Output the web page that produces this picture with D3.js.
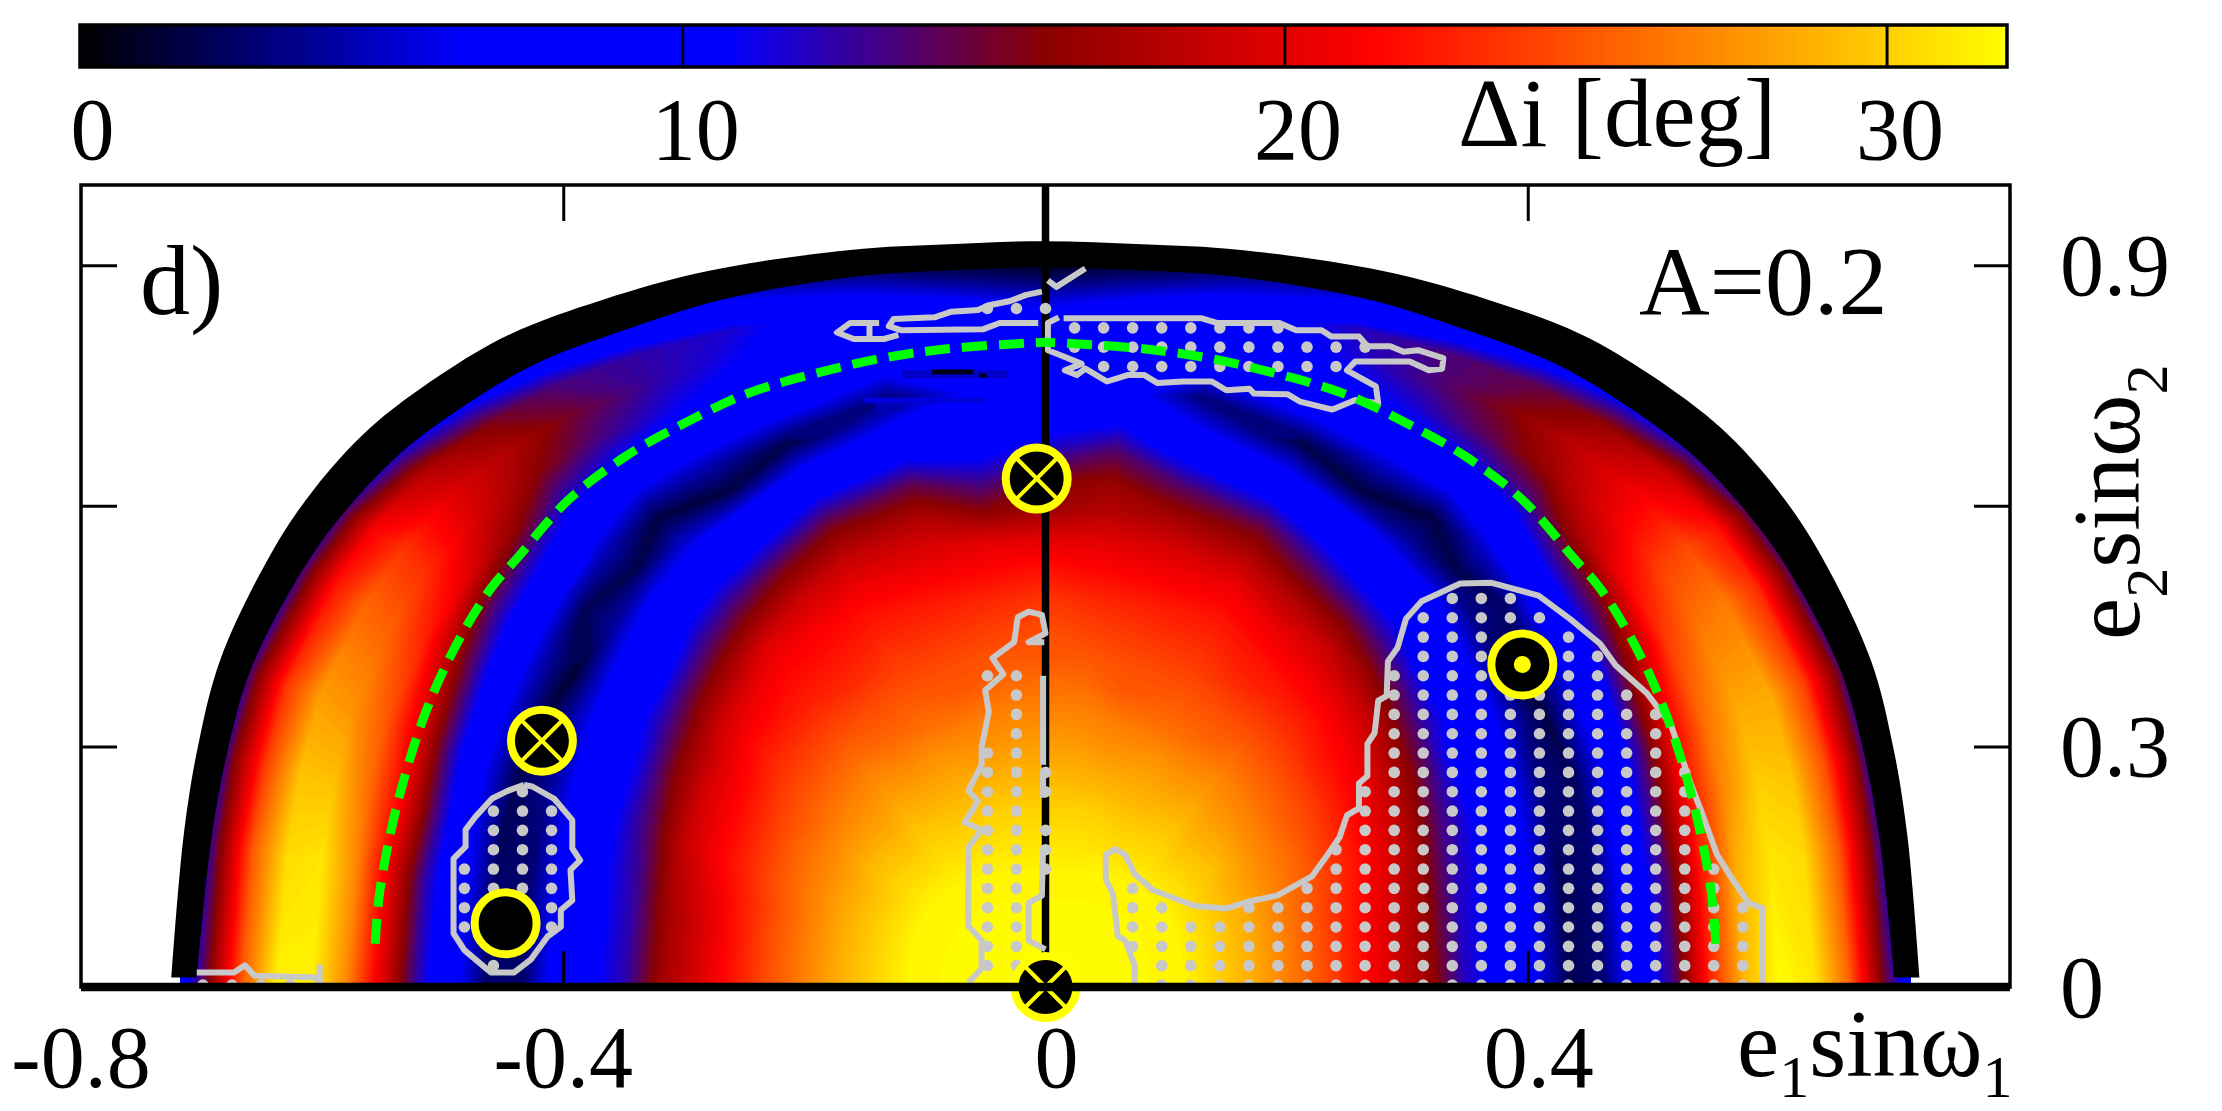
<!DOCTYPE html>
<html lang="en">
<head>
<meta charset="UTF-8">
<title>d) A=0.2</title>
<script src="https://cdnjs.cloudflare.com/ajax/libs/d3/7.8.5/d3.min.js"></script>
<style>
    html, body { margin: 0; padding: 0; background: #fff; }
    svg { display: block; }
    text { font-family: "Liberation Serif", serif; fill: #000; }
</style>
</head>
<body>
<script>
// outer edge of the allowed region, one point per spoke, left to right
var spokeEdgeX = [-.725, -.715, -.703, -.684, -.641, -.607, -.561, -.502, -.444, -.367, -.279, -.162, -.08, 0, .08, .162, .279, .367, .444, .502, .561, .607, .641, .684, .703, .715, .725];
var spokeEdgeY = [0, .187, .3, .41, .544, .62, .696, .763, .814, .857, .893, .919, .926, .93, .926, .919, .893, .857, .814, .763, .696, .62, .544, .41, .3, .187, 0];
// inner side of the black band, as a fraction of the edge
var bandInner = [.971, .968, .966, .964, .96, .957, .955, .954, .954, .955, .96, .964, .965, .965, .965, .964, .96, .955, .954, .954, .955, .957, .96, .964, .966, .968, .971];

// fractions of the way from (0,0) to the edge
var radialStops = [0, .08, .16, .24, .32, .36, .4, .44, .48, .52, .56, .6, .64, .68, .72, .76, .8, .84, .88, .92, .96, .99];

var fieldValues = [
    [32, 32, 31.5, 28.5, 24.5, 22, 19.5, 17, 12.5, 10.2, 7.5, 2.5, 2.5, 7.5, 12.5, 20, 27, 31.5, 31.5, 25, 15, 9],
    [32, 32, 31.5, 28.5, 24.5, 22, 19.5, 17, 12.5, 10.2, 7.5, 2.8, 2.5, 7.5, 12.5, 20, 27, 31, 30.5, 25, 15, 8],
    [32, 32, 31.5, 28.5, 24.5, 22.3, 20, 17.5, 13, 10.4, 7.8, 3, 2.2, 7, 13.5, 21, 26, 29.5, 29.5, 24, 15, 7],
    [32, 32, 31.5, 28.5, 25, 23, 21, 18.5, 14, 10.7, 8, 3.8, 2, 6.5, 12.5, 20, 25, 27.5, 28, 23.5, 14.5, 7],
    [32, 32, 31.5, 28.5, 25.5, 23.5, 21.5, 19.5, 16, 11.5, 9, 5.5, 1.5, 5.5, 10.5, 16.5, 22.5, 25, 25.5, 22, 13.5, 6.5],
    [32, 32, 31.5, 29, 25.5, 24, 22, 20, 17, 13, 9.5, 6.5, 1.3, 4.5, 9, 14, 20.5, 23, 23.5, 21, 13, 6],
    [32, 32, 31.5, 29, 26, 24.5, 23, 21.3, 19, 15, 10.5, 8, 4, 2, 7.5, 12, 17, 19.5, 20, 18, 11, 5],
    [32, 32, 31.5, 29, 26.5, 25, 23.5, 22, 20.5, 17.5, 13.5, 9.8, 7, 1.8, 4.5, 8.5, 12.5, 16, 17.5, 15.5, 9.5, 4.5],
    [32, 32, 31.5, 29.5, 27, 25.5, 24, 22.5, 21.5, 20, 16, 12, 8.5, 5, 1.5, 6, 10.5, 13.5, 15, 13.5, 8, 3.5],
    [32, 32, 31.5, 29.5, 27, 25.5, 24.5, 23, 22, 21, 19, 15.5, 11, 8, 1.5, 4.5, 8.5, 11, 12.5, 12.5, 7, 2.5],
    [32, 32, 31.5, 29.5, 27.5, 26, 25, 24, 23, 22, 20.5, 18.5, 15.5, 11, 7, 1.8, 7, 9, 10.5, 11.5, 6, 2],
    [32, 32, 31.5, 30, 27.5, 26.5, 25, 24.5, 23.5, 22.5, 21, 19.5, 17.5, 14.5, 10.2, 7, 3, 7.5, 9.5, 8.5, 4, 1],
    [32, 32, 31.5, 30, 28, 27, 26, 25, 24, 23, 21.5, 20, 16, 13, 10, 8, 6.5, 8, 8.5, 7, 2.5, .5],
    [32, 32, 31.5, 30, 28, 27, 26, 25, 24.5, 23.5, 22, 20, 17, 15.5, 12, 9.5, 8, 8, 8, 5.5, 1.5, .3],
    [32, 32, 31.5, 30, 28, 27, 26, 25, 24, 23, 21.5, 20, 18, 16.5, 14, 10.5, 7.5, 8, 8.5, 7, 2.5, .5],
    [32, 32, 31.5, 30, 27.5, 26.5, 25, 24.5, 23.5, 22.5, 21, 19.5, 17, 14, 10, 6.5, 3, 7.5, 9.5, 8.5, 4, 1],
    [32, 32, 31.5, 29.5, 27.5, 26, 25, 24, 23, 22, 20.5, 18, 15, 10.5, 6.5, 1.8, 7, 9, 11, 12, 6, 2],
    [32, 32, 31.5, 29.5, 27, 25.5, 24.5, 23, 22, 20.5, 18, 14.5, 10.5, 7.5, 1.5, 5, 9, 11.5, 13.5, 13.5, 7.5, 2.5],
    [32, 32, 31.5, 29.5, 27, 25.5, 24, 22.5, 21, 19, 15.5, 11, 8, 4, 1.5, 6.5, 11, 14.5, 16, 14.5, 8.5, 3.5],
    [32, 32, 31.5, 29, 26.5, 25, 23.5, 22, 20, 17, 13, 9.5, 6.5, 1.8, 5, 9, 13.5, 17, 18.5, 16.5, 10, 4.5],
    [32, 32, 31.5, 29, 26, 24.5, 22.5, 21, 18.5, 14.5, 10.2, 7.5, 3.5, 2.5, 8, 13, 18, 20.5, 21, 19, 11.5, 5],
    [32, 32, 31.5, 29, 25.5, 24, 22, 20, 16.5, 12.5, 9.5, 6, 1.3, 5, 9.5, 15, 21.5, 24, 24.5, 22, 13.5, 6],
    [32, 32, 31.5, 28.5, 25.5, 23.5, 21.5, 19, 15.5, 11, 8.5, 5, 1.5, 6, 11, 17.5, 23.5, 26, 26.5, 23, 14, 6.5],
    [32, 32, 31.5, 28.5, 25, 23, 20.8, 18, 13.5, 10.5, 7.5, 3.2, 2.2, 7, 13, 21, 26, 28.5, 28.5, 24, 15, 7],
    [32, 32, 31.5, 28.5, 24.5, 22.3, 20, 17.2, 12.5, 10.2, 7, 2.5, 2.8, 8, 14, 22, 27, 30, 29.5, 24.5, 15, 7],
    [32, 32, 31.5, 28.5, 24.5, 22, 19.5, 16.8, 12, 10, 6.5, 2, 3, 8.5, 13.5, 22, 28.5, 31, 30.5, 25, 15, 8],
    [32, 32, 31.5, 28.5, 24.5, 22, 19.5, 16.8, 12, 10, 6.5, 2, 3, 8.5, 13.5, 22.5, 29, 32, 31, 25.5, 15, 9]
];

// small dark scraps above the dome: x0, x1, y0, y1, value
var scrapX0 = [-.151, -.142, -.119, -.094, -.055];
var scrapX1 = [-.049, -.119, -.031, -.06, -.049];
var scrapY0 = [.728, .717, .759, .764, .76];
var scrapY1 = [.735, .728, .769, .77, .765];
var scrapValue = [5.5, 4.5, 5, .5, .5];

// the palette
var paletteStops = [0, 6.4, 10.67, 16, 21.33, 32];
var paletteColors = ["#000000", "#0000ff", "#0000ff", "#8b0000", "#ff0000", "#ffff00"];

// grey outlines, [e1 sin w1, e2 sin w2]
var outlineBig = [[.074,.005],[.074,.027],[.066,.058],[.06,.063],[.056,.116],[.05,.134],[.05,.165],[.058,.172],[.066,.165],[.074,.141],[.089,.121],[.124,.101],[.15,.098],[.17,.107],[.192,.114],[.221,.138],[.234,.165],[.244,.187],[.25,.214],[.26,.223],[.26,.254],[.267,.263],[.267,.303],[.273,.317],[.276,.357],[.283,.363],[.284,.406],[.292,.423],[.299,.459],[.312,.481],[.344,.503],[.37,.504],[.409,.488],[.435,.459],[.46,.428],[.473,.401],[.499,.366],[.519,.326],[.535,.254],[.544,.219],[.557,.165],[.57,.134],[.583,.105],[.595,.098],[.595,.005]];
var outlineStrip = [[-.064,.005],[-.053,.023],[-.053,.058],[-.064,.076],[-.064,.174],[-.053,.196],[-.067,.205],[-.056,.232],[-.064,.245],[-.053,.277],[-.053,.299],[-.047,.343],[-.05,.37],[-.035,.39],[-.044,.41],[-.026,.43],[-.023,.461],[-.014,.468],[-.003,.464],[0,.441],[-.014,.43],[-.001,.43]];
var outlineStripB = [[-.002,.388],[-.002,.277]];
var outlineStripC = [[-.002,.268],[-.002,.236]];
var outlineStripD = [[0,.047],[-.014,.058],[-.014,.105],[-.003,.114],[-.002,.174]];
var outlineBlob = [[-.4326,.252],[-.4257,.25],[-.4077,.235],[-.3925,.208],[-.3925,.173],[-.386,.158],[-.394,.146],[-.3925,.108],[-.402,.096],[-.402,.075],[-.413,.063],[-.427,.034],[-.441,.018],[-.46,.018],[-.482,.046],[-.491,.067],[-.491,.16],[-.481,.175],[-.481,.196],[-.473,.212],[-.459,.235],[-.447,.244],[-.4326,.252]];
var outlineFoot = [[-.704,.018],[-.673,.018],[-.664,.027],[-.656,.014],[-.602,.012],[-.602,.025],[-.602,.005]];
var outlineTopTick = [[.033,.896],[.009,.873],[.002,.881]];
var outlineTopA = [[-.003,.867],[-.016,.863],[-.03,.855],[-.047,.85],[-.056,.844],[-.078,.842],[-.092,.835],[-.126,.833],[-.13,.824],[-.12,.819],[-.052,.82],[-.038,.828],[-.006,.828]];
var outlineTopB = [[-.138,.828],[-.162,.828],[-.173,.816],[-.159,.808],[-.134,.808],[-.122,.813]];
var outlineTopC = [[-.146,.825],[-.146,.808]];
var outlineTopRight = [[.015,.834],[.129,.834],[.142,.828],[.194,.828],[.208,.819],[.229,.819],[.237,.811],[.26,.811],[.267,.799],[.286,.799],[.297,.792],[.309,.794],[.33,.784],[.329,.771],[.318,.769],[.302,.78],[.257,.78],[.25,.769],[.274,.749],[.276,.728],[.257,.732],[.238,.72],[.211,.73],[.201,.739],[.173,.74],[.169,.746],[.15,.744],[.138,.755],[.114,.755],[.093,.753],[.082,.763],[.068,.763],[.051,.755],[.033,.771],[.026,.763],[.016,.769],[.03,.777],[.012,.788],[.002,.794],[.002,.828],[.011,.835]];
var outlines = [outlineBig, outlineStrip, outlineStripB, outlineStripC, outlineStripD, outlineBlob, outlineFoot, outlineTopTick, outlineTopA, outlineTopB, outlineTopC, outlineTopRight];

// stable dots: [row, first col, last col] on the scan grid
var dotStep = .0241, dotRowZero = .0025;
var dotSpans = [
    [0,-29,-25],
    [1,-19,-19],[3,-20,-20],[3,-17,-17],[4,-20,-20],[4,-17,-17],[5,-20,-17],[6,-20,-17],[7,-19,-17],[8,-19,-17],[9,-19,-17],[10,-18,-18],
    [1,-2,-1],[2,-2,-1],[3,-2,-1],[4,-2,-1],[5,-2,-1],[6,-2,0],[7,-2,0],[8,-2,0],[9,-2,-1],[10,-2,0],[11,-2,0],[12,-2,-1],[13,-1,-1],[14,-1,-1],[15,-1,-1],[16,-2,-1],
    [0,4,24],[1,4,24],[2,3,24],[3,3,24],[4,3,4],[4,7,24],[5,3,3],[5,9,23],[6,10,23],[7,10,22],[8,11,22],[9,11,22],[10,11,22],[11,12,22],[12,12,21],[13,12,21],[14,12,21],[15,12,20],[16,12,19],[17,13,15],[17,18,19],[18,13,15],[18,18,18],[19,13,17],[20,14,16],
    [32,2,10],[33,1,11],[34,1,8],[35,-2,0]
];

// dashed green curve
var greenX = [-.556,-.552,-.537,-.514,-.49,-.461,-.4375,-.396,-.349,-.302,-.249,-.191,-.132,-.073,0,.073,.132,.191,.249,.302,.349,.396,.4375,.461,.49,.514,.537,.552,.556];
var greenY = [.054,.121,.232,.343,.423,.495,.536,.607,.661,.701,.739,.765,.785,.797,.804,.797,.785,.765,.739,.701,.661,.607,.536,.495,.423,.343,.232,.121,.054];

// yellow markers
var markerX = [-.4177, -.4478, -.0073, 0, .3955];
var markerY = [.307, .0794, .634, 0, .402];
var markerKind = ["cross", "plain", "cross", "cross", "dot"];

var xTicks = [-.8, -.4, 0, .4, .8];
var yTicks = [0, .3, .6, .9];
var barTicks = [0, 10, 20, 30];
var yLabelled = [0, .3, .9];

var width = 2222, height = 1111;

var x = d3.scaleLinear().domain([-.8, .8]).range([81, 2010]);
var y = d3.scaleLinear().domain([0, 1]).range([987, 185]);
var barX = d3.scaleLinear().domain([0, 32]).range([80, 2007]);
var color = d3.scaleLinear().domain(paletteStops).range(paletteColors).clamp(true);

var svg = d3.select("body").append("svg").attr("width", width).attr("height", height);

// ---------- colour bar ----------
var bar = svg.append("g");
bar.selectAll("rect")
    .data(d3.range(0, 32, .1))
    .enter().append("rect")
    .attr("x", function (d) { return barX(d); })
    .attr("width", function (d) { return barX(Math.min(d + .2, 32)) - barX(d); })
    .attr("y", 25).attr("height", 42)
    .attr("fill", function (d) { return color(d); });
bar.append("rect")
    .attr("x", barX(0)).attr("y", 25).attr("width", barX(32) - barX(0)).attr("height", 42)
    .attr("fill", "none").attr("stroke", "#000").attr("stroke-width", 3.5);

var barAxis = svg.append("g")
    .attr("transform", "translate(0,67)")
    .call(d3.axisBottom(barX).tickValues(barTicks).tickSize(-42).tickSizeOuter(0).tickFormat(d3.format("d")));
barAxis.select(".domain").remove();
barAxis.selectAll("line").attr("stroke-width", 3);
barAxis.selectAll("text")
    .attr("font-size", 88).attr("font-family", "Liberation Serif").attr("fill", "#000")
    .attr("y", 92).attr("dy", 0).attr("x", function (d) { return d === 0 ? 12 : 13; });

svg.append("text").attr("x", 1458).attr("y", 146).attr("font-size", 97).text("Δi [deg]");

// ---------- the field, as filled contours over spoke/stop indices ----------
var nSpoke = fieldValues.length, nStop = radialStops.length;
var flat = [];
radialStops.forEach(function (s, j) {
    fieldValues.forEach(function (row) { flat.push(row[j]); });
});

var spokeIndex = d3.range(nSpoke);
var edgeX = d3.scaleLinear().domain(spokeIndex).range(spokeEdgeX).clamp(true);
var edgeY = d3.scaleLinear().domain(spokeIndex).range(spokeEdgeY).clamp(true);
var stopAt = d3.scaleLinear().domain(d3.range(nStop)).range(radialStops).clamp(true);

// contour coordinates have each value at index + 0.5
var gridPath = d3.geoPath(d3.geoTransform({
    point: function (a, b) {
        var t = stopAt(b - .5);
        this.stream.point(x(edgeX(a - .5) * t), y(edgeY(a - .5) * t));
    }
}));

var levelStep = .25;
var contours = d3.contours()
    .size([nSpoke, nStop])
    .thresholds(d3.range(0, 32, levelStep))(flat);

svg.append("g").selectAll("path")
    .data(contours)
    .enter().append("path")
    .attr("d", gridPath)
    .attr("fill", function (d) { return color(d.value + levelStep / 2); });

svg.append("g").selectAll("rect")
    .data(scrapValue)
    .enter().append("rect")
    .attr("x", function (d, i) { return x(scrapX0[i]); })
    .attr("width", function (d, i) { return x(scrapX1[i]) - x(scrapX0[i]); })
    .attr("y", function (d, i) { return y(scrapY1[i]); })
    .attr("height", function (d, i) { return y(scrapY0[i]) - y(scrapY1[i]); })
    .attr("fill", function (d) { return color(d); });

// black band round the region
var curved = d3.line()
    .x(function (d) { return x(d[0]); })
    .y(function (d) { return y(Math.max(d[1], .012)); })
    .curve(d3.curveCatmullRom.alpha(.5));
var bandOuter = spokeEdgeX.map(function (d, i) { return [d, spokeEdgeY[i]]; });
var bandBack = spokeEdgeX.map(function (d, i) { return [d * bandInner[i], spokeEdgeY[i] * bandInner[i]]; }).reverse();
svg.append("path")
    .attr("d", curved(bandOuter) + "L" + curved(bandBack).slice(1) + "Z")
    .attr("fill", "#000");

// line at e1 sin w1 = 0
svg.append("line")
    .attr("x1", x(0)).attr("x2", x(0)).attr("y1", y(1)).attr("y2", y(0))
    .attr("stroke", "#000").attr("stroke-width", 7.5);

// ---------- grey outlines and dots ----------
var plain = d3.line()
    .x(function (d) { return x(d[0]); })
    .y(function (d) { return y(d[1]); });
svg.append("g").selectAll("path")
    .data(outlines)
    .enter().append("path")
    .attr("d", plain)
    .attr("fill", "none").attr("stroke", "#c8c8c8").attr("stroke-width", 6)
    .attr("stroke-linejoin", "round");

var dots = [];
dotSpans.forEach(function (s) {
    d3.range(s[1], s[2] + 1).forEach(function (c) { dots.push([c * dotStep, dotRowZero + s[0] * dotStep]); });
});
svg.append("g").selectAll("circle")
    .data(dots)
    .enter().append("circle")
    .attr("cx", function (d) { return x(d[0]); })
    .attr("cy", function (d) { return y(d[1]); })
    .attr("r", 5.8)
    .attr("fill", "#c8c8c8");

// ---------- green curve, two halves dashed from the lower ends ----------
var greenPoints = greenX.map(function (d, i) { return [d, greenY[i]]; });
var greenLine = d3.line()
    .x(function (d) { return x(d[0]); })
    .y(function (d) { return y(d[1]); })
    .curve(d3.curveCatmullRom);
svg.append("g").selectAll("path")
    .data([greenPoints.slice(0, 15), greenPoints.slice(14).reverse()])
    .enter().append("path")
    .attr("d", greenLine)
    .attr("fill", "none").attr("stroke", "#00ff00").attr("stroke-width", 9)
    .attr("stroke-dasharray", "25 12");

// ---------- markers ----------
var mark = svg.append("g").selectAll("g")
    .data(markerX)
    .enter().append("g")
    .attr("transform", function (d, i) { return "translate(" + x(d) + "," + y(markerY[i]) + ")"; });
mark.append("circle").attr("r", 31).attr("fill", "#000").attr("stroke", "#ffff00").attr("stroke-width", 8);
mark.filter(function (d, i) { return markerKind[i] === "dot"; })
    .append("circle").attr("r", 8.5).attr("fill", "#ffff00");
mark.filter(function (d, i) { return markerKind[i] === "cross"; })
    .append("path")
    .attr("d", "M-20,-20L20,20M-20,20L20,-20")
    .attr("stroke", "#ffff00").attr("stroke-width", 4);

// ---------- frame and axes ----------
svg.append("rect")
    .attr("x", x.range()[0]).attr("y", y.range()[1])
    .attr("width", x.range()[1] - x.range()[0]).attr("height", y.range()[0] - y.range()[1])
    .attr("fill", "none").attr("stroke", "#000").attr("stroke-width", 3.5);
svg.append("line")
    .attr("x1", x(-.8)).attr("x2", x(.8)).attr("y1", y(0)).attr("y2", y(0))
    .attr("stroke", "#000").attr("stroke-width", 8.5);

function clean(g) {
    g.select(".domain").remove();
    g.selectAll("line").attr("stroke-width", 3);
}
svg.append("g").attr("transform", "translate(0," + y(0) + ")")
    .call(d3.axisBottom(x).tickValues([-.4, .4]).tickSize(-36).tickFormat("")).call(clean);
svg.append("g").attr("transform", "translate(0," + y(1) + ")")
    .call(d3.axisTop(x).tickValues([-.4, .4]).tickSize(-36).tickFormat("")).call(clean);
svg.append("g").attr("transform", "translate(" + x(-.8) + ",0)")
    .call(d3.axisLeft(y).tickValues(yTicks.slice(1)).tickSize(-36).tickFormat("")).call(clean);
svg.append("g").attr("transform", "translate(" + x(.8) + ",0)")
    .call(d3.axisRight(y).tickValues(yTicks.slice(1)).tickSize(-36).tickFormat("")).call(clean);

// tick labels
svg.append("g").selectAll("text")
    .data(xTicks.slice(0, 4))
    .enter().append("text")
    .attr("x", function (d) { return x(d) + (d < 0 ? 0 : 11); })
    .attr("y", 1087)
    .attr("text-anchor", "middle").attr("font-size", 88)
    .text(function (d) { return d === 0 ? "0" : d.toFixed(1); });
svg.append("g").selectAll("text")
    .data(yLabelled)
    .enter().append("text")
    .attr("x", 2060)
    .attr("y", function (d) { return y(d) + 30; })
    .attr("font-size", 88)
    .text(function (d) { return d === 0 ? "0" : d.toFixed(1); });

svg.append("text").attr("x", 140).attr("y", 314).attr("font-size", 100).text("d)");
svg.append("text").attr("x", 1639).attr("y", 314).attr("font-size", 98).text("A=0.2");

// axis titles with subscripts
function title(sel, a, b, drop) {
    sel.attr("font-size", 95);
    sel.append("tspan").text("e");
    sel.append("tspan").attr("font-size", 60).attr("dy", drop).text(a);
    sel.append("tspan").attr("dy", -drop).text("sinω");
    sel.append("tspan").attr("font-size", 60).attr("dy", drop).text(b);
}
svg.append("text").attr("x", 1737).attr("y", 1076).call(title, "1", "1", 21);
svg.append("text").attr("transform", "translate(2139,640) rotate(-90)").call(title, "2", "2", 28);
</script>
</body>
</html>
